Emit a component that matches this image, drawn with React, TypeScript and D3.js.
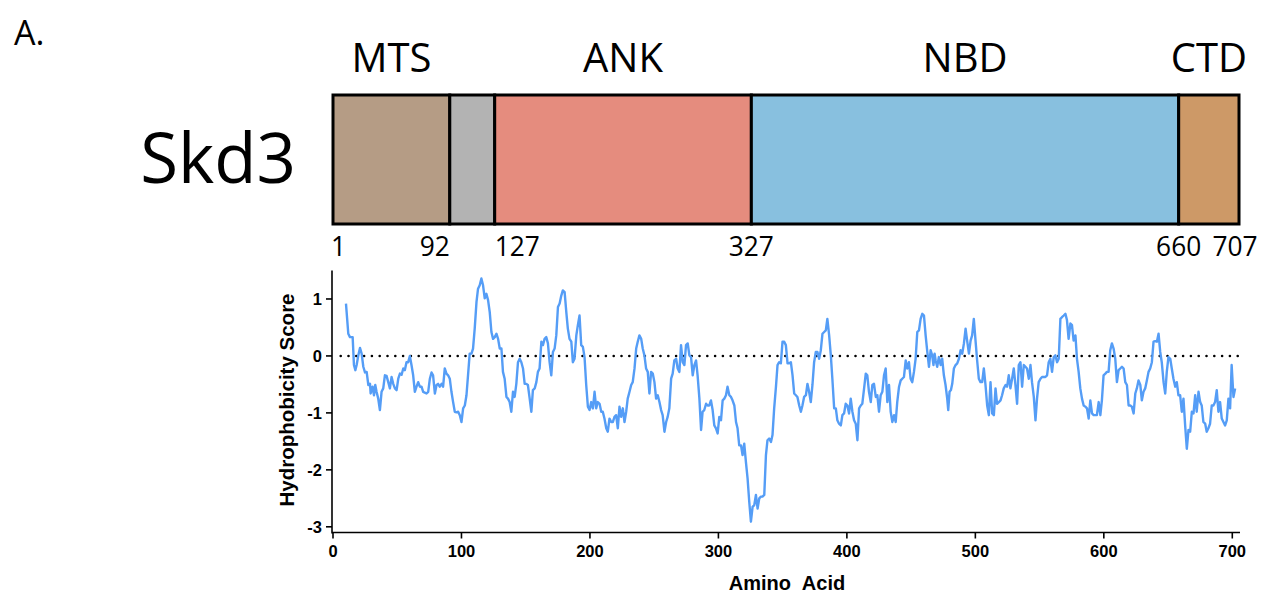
import React, { useRef, useEffect } from "react";
import * as d3 from "d3";

// hydrophobicity profile (residue, score)
const residues = [
  10.1, 11.9, 13.2, 15.3, 16.3, 17.4, 18.4, 19.7, 21, 22.3, 23.6, 24.9, 26.2, 27.5, 28.8, 29.3, 30.8, 31.9, 32.9, 33.9,
  35.2, 36.5, 37.8, 39.1, 40.4, 41.7, 43, 44.3, 45.6, 46.9, 48.2, 49.5, 50.8, 52.1, 53.4, 54.7, 55.9, 57.2, 58.5, 59.8,
  61.1, 62.4, 63.7, 65, 66.3, 67.6, 68.9, 70.2, 72.8, 74.1, 75.4, 76.7, 77.9, 79.3, 80.6, 81.8, 83.1, 84.5, 85.7, 87,
  88.3, 89.6, 90.9, 92.2, 93.5, 94.8, 96.1, 97.4, 98.7, 100, 101.3, 102.6, 103.9, 105.1, 106.4, 107.8, 109, 110.3, 111.7, 112.9,
  114.2, 115.5, 116.8, 118.1, 119.4, 120.7, 122, 123.3, 124.6, 125.9, 127.2, 128.5, 129.8, 131.1, 132.3, 133.6, 135, 136.2, 137.5, 138.8,
  140.1, 141.4, 142.7, 144, 145.3, 146.6, 147.9, 149.2, 150.5, 151.7, 153.1, 154.4, 155.6, 157, 158.3, 159.5, 160.8, 162.2, 163.4, 164.7,
  166, 167.3, 168.6, 169.9, 171.2, 172.5, 173.8, 175.1, 176.4, 177.7, 178.9, 180.3, 181.6, 182.8, 184.1, 185.5, 186.7, 188, 189.4, 190.6,
  191.9, 193.2, 194.5, 195.8, 197.1, 198.4, 199.7, 201, 202.3, 203.6, 204.9, 206.1, 207.5, 208.8, 210, 211.3, 212.7, 213.9, 215.2, 216.6,
  217.8, 219.1, 220.4, 221.7, 223, 224.3, 225.6, 226.9, 228.2, 229.4, 230.8, 232.1, 233.3, 234.7, 236, 237.2, 238.5, 239.9, 241.1, 242.4,
  243.7, 245, 246.3, 247.6, 248.9, 250.2, 251.5, 252.8, 254.1, 255.4, 256.6, 258, 259.3, 260.5, 261.8, 263.2, 264.4, 265.7, 267.1, 268.3,
  269.6, 270.9, 272.2, 273.5, 274.8, 276.1, 277.4, 278.7, 280, 281.3, 282.6, 283.8, 285.2, 286.5, 287.7, 289, 290.4, 291.6, 292.9, 294.2,
  295.5, 296.8, 298.1, 299.4, 300.7, 302, 303.3, 304.6, 305.9, 307.1, 308.5, 309.8, 311, 312.4, 313.7, 314.9, 316.2, 317.6, 318.8, 320.1,
  321.4, 322.7, 324, 325.3, 326.6, 327.9, 329.2, 330.5, 331.8, 333.1, 334.3, 335.7, 337, 338.2, 339.5, 340.9, 342.1, 343.4, 344.8, 346,
  347.3, 348.6, 349.9, 351.2, 352.5, 353.8, 355.1, 356.4, 357.7, 359, 360.3, 361.5, 362.9, 364.2, 365.4, 366.7, 368.1, 369.3, 370.6, 371.9,
  373.2, 374.5, 375.8, 377.1, 378.4, 379.7, 381, 382.3, 383.6, 384.8, 386.2, 387.5, 388.7, 390.1, 391.4, 392.6, 393.9, 395.3, 396.5, 397.8,
  399.1, 400.4, 401.7, 403, 404.3, 405.6, 406.9, 408.2, 409.5, 410.8, 412, 413.4, 414.7, 415.9, 417.2, 418.6, 419.8, 421.1, 422.5, 423.7,
  425, 426.3, 427.6, 428.9, 430.2, 431.5, 432.8, 434.1, 435.4, 436.7, 438, 439.2, 440.6, 441.9, 443.1, 444.4, 445.8, 447, 448.3, 449.6,
  450.9, 452.2, 453.5, 454.8, 456.1, 457.4, 458.7, 460, 461.3, 462.6, 463.9, 465.2, 466.4, 467.4, 468.3, 469.1, 470.3, 471.6, 473, 474.2,
  475.5, 476.8, 478.1, 478.9, 479.9, 481, 482, 483.3, 484.6, 485.9, 487.2, 488.5, 489.8, 491.1, 492.4, 493.6, 495, 496.3, 497.5, 498.8,
  500.2, 501.4, 502.7, 504, 505.3, 506.6, 507.9, 509.2, 510.5, 511.8, 513.1, 514.4, 515.7, 516.9, 518.3, 519.6, 520.8, 522.1, 523.5, 524.7,
  526, 527.3, 528.6, 529.9, 531.2, 532.5, 533.8, 535.1, 536.4, 537.7, 539, 540.2, 541.6, 542.9, 544.1, 545.5, 546.8, 548, 549.3, 550.7,
  551.9, 554.5, 555.8, 557.1, 558.4, 559.7, 561, 562.3, 563.6, 564.9, 566.2, 567.4, 568.8, 570.1, 571.3, 572.6, 574, 575.2, 576.5, 577.9,
  579.1, 580.4, 581.7, 583, 584.3, 585.6, 586.9, 588.2, 589.5, 590.8, 592.1, 593.4, 594.6, 596, 597.3, 598.5, 599.8, 601.2, 602.4, 603.7,
  605, 606.3, 607.6, 608.9, 610.2, 611.5, 612.8, 614.1, 615.4, 616.7, 618, 619.3, 620.6, 621.8, 623.2, 624.5, 625.7, 627, 628.4, 629.6,
  630.9, 632.2, 633.5, 634.8, 636.1, 637.4, 638.7, 640, 641.3, 642.6, 643.9, 645.1, 646.5, 647.8, 649, 650.3, 651.7, 652.9, 654.2, 655.6,
  656.8, 658.1, 659.4, 660.7, 662, 663.3, 664.6, 665.9, 667.2, 668.5, 669.8, 671.1, 672.3, 673.7, 675, 676.2, 677.5, 678.9, 680.1, 681.4,
  682.7, 684, 685.3, 686.6, 687.9, 689.2, 690.5, 691.8, 693.1, 694.4, 695.7, 697, 698.3, 699.5, 700.9, 702.2,
];

const scores = [
  0.92, 0.39, 0.33, 0.33, -0.16, -0.25, -0.16, 0.01, 0.14, 0.04, -0.19, -0.29, -0.28, -0.51, -0.49, -0.66, -0.54, -0.69, -0.51, -0.63,
  -0.75, -0.95, -0.63, -0.57, -0.34, -0.35, -0.46, -0.57, -0.37, -0.49, -0.57, -0.6, -0.4, -0.31, -0.33, -0.22, -0.25, -0.11, -0.11, 0,
  -0.16, -0.34, -0.63, -0.54, -0.46, -0.54, -0.54, -0.63, -0.66, -0.63, -0.4, -0.29, -0.34, -0.66, -0.51, -0.49, -0.54, -0.49, -0.54, -0.22,
  -0.31, -0.34, -0.4, -0.63, -0.81, -0.98, -0.99, -0.98, -1.04, -1.16, -0.92, -0.87, -0.69, -0.34, 0.04, 0.04, 0.13, 0.48, 0.95, 1.18,
  1.24, 1.36, 1.24, 1.01, 1.09, 0.98, 0.77, 0.42, 0.3, 0.33, 0.39, 0.3, 0.13, 0.13, -0.28, -0.4, -0.72, -0.75, -0.81, -0.98,
  -0.63, -0.72, -0.49, -0.11, -0.05, -0.11, -0.22, -0.49, -0.49, -0.51, -0.75, -0.98, -0.6, -0.57, -0.46, -0.28, -0.22, 0.25, 0.19, 0.3,
  0.33, 0.22, -0.11, -0.34, 0.07, 0.13, 0.36, 0.86, 0.92, 1.06, 1.15, 1.12, 0.77, 0.48, 0.3, 0.25, -0.11, -0.05, 0.36, 0.54,
  0.71, 0.19, 0.16, -0.02, -0.51, -0.89, -0.95, -0.81, -0.92, -0.63, -0.92, -0.81, -0.84, -0.98, -0.98, -1.1, -1.27, -1.33, -1.1, -1.16,
  -1.16, -1.07, -1.04, -1.27, -0.89, -1.07, -0.92, -1.16, -0.98, -0.75, -0.63, -0.51, -0.46, -0.22, 0.13, 0.25, 0.36, 0.3, 0.13, 0.01,
  -0.22, -0.28, -0.66, -0.28, -0.31, -0.46, -0.75, -0.69, -0.81, -0.95, -1.04, -1.33, -1.16, -1.07, -0.92, -0.4, -0.31, -0.08, -0.05, -0.22,
  -0.28, 0.19, -0.11, -0.16, 0.19, 0.22, 0.01, -0.02, -0.34, -0.16, -0.08, -0.34, -0.75, -1.3, -0.98, -0.95, -0.84, -0.87, -0.87, -0.78,
  -0.95, -1.22, -1.27, -1.36, -1.07, -1.13, -0.78, -0.75, -0.69, -0.54, -0.69, -0.72, -0.78, -0.87, -1.16, -1.27, -1.57, -1.57, -1.74, -1.54,
  -1.86, -2.15, -2.56, -2.91, -2.65, -2.62, -2.44, -2.68, -2.5, -2.47, -2.47, -2.44, -1.74, -1.48, -1.45, -1.51, -1.39, -0.92, -0.54, -0.16,
  -0.11, -0.13, 0.25, 0.25, 0.19, -0.13, -0.13, -0.11, -0.34, -0.66, -0.69, -0.72, -0.87, -0.98, -0.87, -0.72, -0.69, -0.49, -0.63, -0.81,
  -0.51, -0.11, 0.07, 0.07, -0.05, 0.1, 0.39, 0.42, 0.45, 0.65, 0.36, 0.01, -0.4, -0.92, -0.92, -1.13, -1.19, -1.22, -1.04, -1.01,
  -0.84, -0.87, -1.01, -0.75, -0.98, -1.13, -1.19, -1.48, -0.92, -0.87, -0.84, -0.57, -0.31, -0.34, -0.63, -0.81, -0.51, -0.49, -0.72, -0.69,
  -0.98, -0.69, -0.63, -0.34, -0.22, -0.81, -0.51, -0.98, -1.16, -1.04, -1.16, -0.81, -0.54, -0.43, -0.4, -0.37, -0.08, -0.22, -0.11, -0.4,
  -0.46, -0.28, -0.05, 0.42, 0.45, 0.65, 0.74, 0.71, 0.36, 0.07, -0.19, 0.1, 0.01, -0.16, 0.04, -0.08, -0.19, -0.02, -0.16, -0.05,
  -0.34, -0.51, -0.75, -0.95, -0.63, -0.6, -0.49, -0.22, -0.16, -0.13, -0.05, 0.1, 0.04, 0.22, 0.48, 0.27, 0.04, 0.27, 0.36, 0.65,
  0.25, -0.08, -0.4, -0.46, -0.46, -0.22, -0.51, -0.87, -1.04, -0.46, -1.01, -1.04, -0.57, -0.84, -0.81, -0.78, -0.69, -0.57, -0.51, -0.54,
  -0.34, -0.57, -0.4, -0.22, -0.51, -0.84, -0.16, -0.11, -0.54, -0.16, -0.19, -0.22, -0.4, -0.16, -0.46, -0.72, -1.13, -0.75, -0.46, -0.4,
  -0.37, -0.37, -0.34, -0.11, -0.05, -0.28, -0.02, 0.01, -0.11, -0.05, 0.65, 0.68, 0.71, 0.74, 0.63, 0.3, 0.57, 0.54, 0.27, 0.36,
  -0.05, -0.28, -0.57, -0.75, -0.87, -0.89, -0.92, -1.1, -0.78, -1.01, -1.04, -1.04, -1.04, -0.81, -1.04, -0.78, -0.34, -0.31, -0.28, -0.28,
  0.1, 0.22, 0.13, -0.05, -0.46, -0.25, -0.22, -0.19, -0.22, -0.46, -0.51, -0.87, -0.87, -0.89, -1.01, -0.66, -0.57, -0.43, -0.51, -0.78,
  -0.63, -0.57, -0.43, -0.28, -0.22, -0.11, 0.25, 0.26, 0.25, 0.39, 0.07, -0.11, -0.46, -0.66, -0.28, -0.02, -0.05, -0.22, -0.4, -0.54,
  -0.46, -0.69, -0.69, -0.98, -0.75, -1.22, -1.63, -1.3, -1.33, -0.98, -1.01, -0.69, -0.98, -0.63, -0.81, -0.87, -1.16, -1.19, -1.33, -1.27,
  -1.19, -0.87, -0.87, -0.81, -0.6, -0.98, -0.81, -1.1, -1.16, -1.22, -1.13, -0.75, -0.92, -0.16, -0.72, -0.57,
];

// domain map
const domainNames = ["MTS", "", "ANK", "NBD", "CTD"];
const domainStarts = [1, 92, 127, 327, 660];
const domainEnds = [92, 127, 327, 660, 707];
const domainColors = ["#b59c85", "#b3b3b3", "#e58c7e", "#88c0df", "#cd9967"];
const boundaryLabels = [1, 92, 127, 327, 660, 707];
const boundaryAnchors = ["start", "end", "start", "middle", "middle", "middle"];
const boundaryShift = [-2, 0, 0, 0, 0, -4];

const xTicks = [0, 100, 200, 300, 400, 500, 600, 700];
const yTicks = [1, 0, -1, -2, -3];

export default function App() {
  const ref = useRef<SVGSVGElement>(null);
  const width = 1264;
  const height = 595;

  useEffect(() => {
    const svg = d3.select(ref.current);
    svg.selectAll("*").remove();

    // ---- top: domain diagram ----
    const bx = d3.scaleLinear().domain([1, 707]).range([333, 1239]);
    const barTop = 95;
    const barBottom = 224;
    const myriad = "'Open Sans', 'Noto Sans', sans-serif";

    svg.append("text")
      .attr("x", 14).attr("y", 45)
      .attr("font-family", myriad).attr("font-size", 34)
      .attr("fill", "#000")
      .text("A.");

    svg.append("text")
      .attr("x", 296).attr("y", 183)
      .attr("text-anchor", "end")
      .attr("font-family", myriad).attr("font-size", 69)
      .attr("fill", "#000")
      .text("Skd3");

    const segs = domainNames.map((name, i) => ({
      name, start: domainStarts[i], end: domainEnds[i], color: domainColors[i],
    }));

    svg.append("g").selectAll("rect")
      .data(segs)
      .enter()
      .append("rect")
      .attr("x", d => bx(d.start))
      .attr("y", barTop)
      .attr("width", d => bx(d.end) - bx(d.start))
      .attr("height", barBottom - barTop)
      .attr("fill", d => d.color)
      .attr("stroke", "#000")
      .attr("stroke-width", 3);

    svg.append("g").selectAll("text")
      .data(segs.filter(d => d.name))
      .enter()
      .append("text")
      .attr("x", d => bx((d.start + d.end) / 2))
      .attr("y", 72)
      .attr("text-anchor", "middle")
      .attr("font-family", myriad).attr("font-size", 40)
      .attr("fill", "#000")
      .text(d => d.name);

    // boundary numbers, slightly condensed like the original face
    svg.append("g").selectAll("text")
      .data(boundaryLabels)
      .enter()
      .append("text")
      .attr("transform", (d, i) => `translate(${bx(d) + boundaryShift[i]},256) scale(0.94,1)`)
      .attr("text-anchor", (d, i) => boundaryAnchors[i])
      .attr("font-family", myriad).attr("font-size", 28)
      .attr("fill", "#000")
      .text(d => d);

    // ---- bottom: hydrophobicity plot ----
    const x = d3.scaleLinear().domain([0, 706]).range([333, 1240]);
    const y = d3.scaleLinear().domain([-3.1, 1.5]).range([532.5, 270.5]);
    const axisFont = "'Liberation Sans', Arial, Helvetica, sans-serif";
    const g = svg.append("g");

    // zero reference (dotted)
    g.append("line")
      .attr("x1", x(6)).attr("x2", x(705))
      .attr("y1", y(0)).attr("y2", y(0))
      .attr("stroke", "#000")
      .attr("stroke-width", 2.6)
      .attr("stroke-linecap", "round")
      .attr("stroke-dasharray", "0,7.8");

    const pts = residues.map((r, i) => [r, scores[i]] as [number, number]);
    const line = d3.line<[number, number]>()
      .x(d => x(d[0]))
      .y(d => y(d[1]));
    g.append("path")
      .attr("d", line(pts))
      .attr("fill", "none")
      .attr("stroke", "#559df6")
      .attr("stroke-width", 2.4)
      .attr("stroke-linejoin", "round");

    // axes
    const x0 = x(0) - 1;
    const yBottom = y(-3.1);
    g.append("line")
      .attr("x1", x0).attr("x2", x0)
      .attr("y1", y(1.5)).attr("y2", yBottom + 1)
      .attr("stroke", "#000").attr("stroke-width", 1.6);
    g.append("line")
      .attr("x1", x0).attr("x2", x(706))
      .attr("y1", yBottom).attr("y2", yBottom)
      .attr("stroke", "#000").attr("stroke-width", 1.6);

    g.selectAll(".yt")
      .data(yTicks)
      .enter()
      .append("line")
      .attr("x1", x0 - 6).attr("x2", x0)
      .attr("y1", d => y(d)).attr("y2", d => y(d))
      .attr("stroke", "#000").attr("stroke-width", 1.6);

    g.selectAll(".yl")
      .data(yTicks)
      .enter()
      .append("text")
      .attr("x", x0 - 10)
      .attr("y", d => y(d) + 6)
      .attr("text-anchor", "end")
      .attr("font-family", axisFont).attr("font-weight", "bold").attr("font-size", 16.5)
      .attr("fill", "#000")
      .text(d => d);

    g.selectAll(".xt")
      .data(xTicks)
      .enter()
      .append("line")
      .attr("x1", d => x(d)).attr("x2", d => x(d))
      .attr("y1", yBottom).attr("y2", yBottom + 6)
      .attr("stroke", "#000").attr("stroke-width", 1.6);

    g.selectAll(".xl")
      .data(xTicks)
      .enter()
      .append("text")
      .attr("x", d => x(d))
      .attr("y", 557)
      .attr("text-anchor", "middle")
      .attr("font-family", axisFont).attr("font-weight", "bold").attr("font-size", 16.5)
      .attr("fill", "#000")
      .text(d => d);

    g.append("text")
      .attr("x", 787).attr("y", 590)
      .attr("text-anchor", "middle")
      .attr("font-family", axisFont).attr("font-weight", "bold").attr("font-size", 20)
      .attr("word-spacing", 6)
      .attr("fill", "#000")
      .text("Amino Acid");

    g.append("text")
      .attr("transform", "translate(294,400) rotate(-90)")
      .attr("text-anchor", "middle")
      .attr("font-family", axisFont).attr("font-weight", "bold").attr("font-size", 20.5)
      .attr("fill", "#000")
      .text("Hydrophobicity Score");
  }, []);

  return (
    <svg
      ref={ref}
      width={width}
      height={height}
      style={{ position: "absolute", left: 0, top: 0, background: "#fff" }}
    />
  );
}
